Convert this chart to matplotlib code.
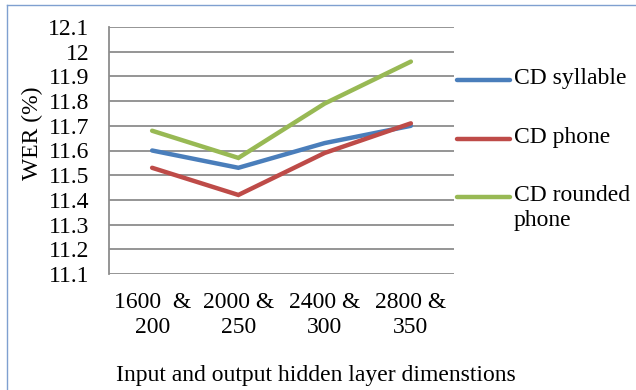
import matplotlib
matplotlib.use("Agg")
import matplotlib.pyplot as plt
from matplotlib.lines import Line2D

categories = ["1600  &\n200", "2000 &\n250", "2400 &\n300", "2800 &\n350"]
series_names = ["CD syllable", "CD phone", "CD rounded\nphone"]
cd_syllable = [11.60, 11.53, 11.63, 11.70]
cd_phone = [11.53, 11.42, 11.59, 11.71]
cd_rounded_phone = [11.68, 11.57, 11.79, 11.96]
y_ticks = [11.1, 11.2, 11.3, 11.4, 11.5, 11.6, 11.7, 11.8, 11.9, 12.0, 12.1]
y_tick_labels = ["11.1", "11.2", "11.3", "11.4", "11.5", "11.6", "11.7",
                 "11.8", "11.9", "12", "12.1"]

colors = ["#4a7ebb", "#be4b48", "#98b954"]
W, H = 636, 390

plt.rcParams["font.family"] = ["Liberation Serif", "DejaVu Serif"]
fs = 17

fig = plt.figure(figsize=(W / 100, H / 100), dpi=100)
ax = fig.add_axes([109 / W, 1 - 274 / H, 345 / W, 247 / H])

x = range(len(categories))
for vals, c in zip([cd_syllable, cd_phone, cd_rounded_phone], colors):
    ax.plot(x, vals, color=c, linewidth=3.2, solid_capstyle="round",
            solid_joinstyle="miter", zorder=3)

ax.set_xlim(-0.5, len(categories) - 0.5)
ax.set_ylim(y_ticks[0], y_ticks[-1])
ax.set_yticks(y_ticks)
ax.set_yticklabels(y_tick_labels, fontsize=fs)
ax.set_xticks(list(x))
ax.set_xticklabels(categories, fontsize=fs, linespacing=1.25)
ax.tick_params(axis="y", length=0, pad=14)
ax.tick_params(axis="x", length=0, pad=13)
ax.grid(axis="y", color="#8c8c8c", linewidth=1.3)
ax.set_axisbelow(True)
for side in ["top", "right", "bottom"]:
    ax.spines[side].set_visible(False)
ax.spines["left"].set_color("#8c8c8c")
ax.spines["left"].set_linewidth(1.3)

fig.text(32 / W, 1 - 133 / H, "WER (%)", rotation=90, fontsize=fs,
         ha="center", va="center")
fig.text(316 / W, 1 - 376 / H, "Input and output hidden layer dimenstions",
         fontsize=fs, ha="center", va="center")

# legend drawn by hand on the right
legend_y = [80, 139, 197]
for name, c, yy in zip(series_names, colors, legend_y):
    fy = 1 - yy / H
    fig.add_artist(Line2D([457 / W, 510 / W], [fy, fy], color=c,
                          linewidth=3.2, solid_capstyle="round"))
    fig.text(514 / W, 1 - (yy - 12) / H, name, fontsize=fs, ha="left",
             va="top", linespacing=1.25)

# frame edges around the chart
frame = "#7fa0d0"
fig.add_artist(Line2D([7 / W, 1], [1 - 5 / H, 1 - 5 / H], color=frame,
                      linewidth=1))
fig.add_artist(Line2D([7 / W, 7 / W], [0, 1 - 5 / H], color=frame,
                      linewidth=1))

fig.savefig("out.png", dpi=100)
